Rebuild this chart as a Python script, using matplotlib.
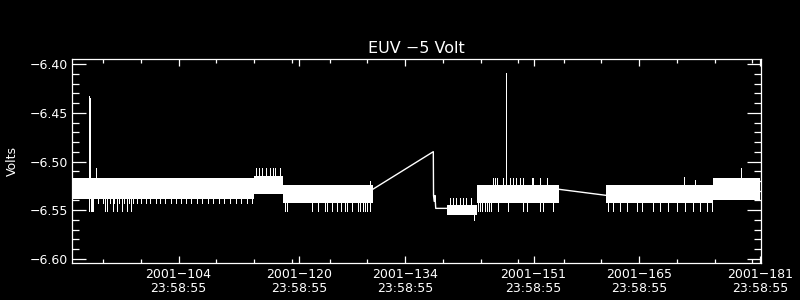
import matplotlib
matplotlib.use('Agg')
import matplotlib.pyplot as plt

# time axis: day of year 2001 (fractional); 105.0 ~ 2001-104 23:58:55
# dense telemetry blocks: start, end, top, bottom of the white band (volts)
seg_start = [90.97, 114.92, 118.76, 140.59, 144.56, 146.64, 161.61, 175.78]
seg_end = [114.92, 118.76, 130.71, 144.56, 146.64, 155.38, 175.78, 182.05]
seg_top = [-6.5170, -6.5150, -6.5242, -6.5448, -6.5242, -6.5242, -6.5242, -6.5167]
seg_bottom = [-6.5390, -6.5330, -6.5430, -6.5555, -6.5430, -6.5430, -6.5430, -6.5396]

# sparse stretches joining the blocks
ramp_t = [130.71, 138.73, 138.76, 138.85, 138.95, 139.05, 140.59]
ramp_v = [-6.5286, -6.4899, -6.5350, -6.5410, -6.5350, -6.5482, -6.5482]
gap_t = [155.38, 161.61]
gap_v = [-6.5286, -6.5348]

# upward excursions
up_t = [93.15, 93.28, 94.02,
        115.25, 115.6, 116.05, 116.58, 117.11, 117.5, 117.77, 118.43,
        130.4,
        141.0, 141.4, 141.8, 142.3, 142.7, 143.1, 143.7,
        146.68, 146.9, 147.13, 148.0, 148.88, 149.32, 149.68, 150.21,
        150.65, 151.77, 151.98, 152.87, 153.75,
        148.30, 148.36,
        171.95, 173.4, 179.49]
up_v = [-6.4323, -6.4345, -6.5064,
        -6.5064, -6.5064, -6.5064, -6.5064, -6.5064, -6.5064, -6.5064, -6.5064,
        -6.5200,
        -6.5372, -6.5372, -6.5372, -6.5372, -6.5372, -6.5372, -6.5372,
        -6.5167, -6.5167, -6.5167, -6.5167, -6.5167, -6.5167, -6.5167, -6.5167,
        -6.5167, -6.5167, -6.5167, -6.5167, -6.5167,
        -6.4326, -6.4093,
        -6.5157, -6.5190, -6.5064]

# downward excursions
down_t = [93.15, 93.36, 93.53, 93.66, 95.25, 95.55, 96.27, 96.8, 97.46, 98.12, 98.7,
          94.32, 94.99, 95.91, 96.44, 97.11, 97.77, 98.43, 98.96, 99.49, 100.02,
          100.68, 101.21, 102.01, 102.54, 103.21, 104.0, 104.66, 105.32, 105.98,
          106.64, 107.44, 108.1, 108.89, 109.56, 110.36, 111.02, 111.81, 112.6,
          113.27, 114.07, 114.72,
          119.1, 119.32, 122.63, 123.51, 124.4, 124.62, 125.36, 125.95, 126.48,
          127.05, 127.27, 127.94, 128.81, 129.03, 129.47, 129.69, 129.91, 130.35,
          144.17,
          144.65, 144.92, 145.18, 145.58, 145.84, 146.11, 146.37,
          147.34, 148.67, 150.65, 151.1, 152.87, 153.3, 154.63,
          161.91, 162.58, 163.46, 164.35, 165.68, 166.34, 167.87, 168.76, 169.86,
          170.97, 172.07, 173.17, 174.06, 174.94, 175.61]
down_v = [-6.5506] * 11 + [-6.5430] * 31 + [-6.5506] * 18 + [-6.5600] \
    + [-6.5506] * 7 + [-6.5506] * 7 + [-6.5506] * 15

tick_days = [104, 120, 134, 151, 165, 181]
tick_labels = ['2001\u2212%d\n23:58:55' % d for d in tick_days]
minor_days = [95, 100, 105, 110, 115, 120, 125, 130, 135, 140, 145, 150,
              156, 161, 166, 171, 176, 181]


def band_mid(t):
    for s, e, top, bot in zip(seg_start, seg_end, seg_top, seg_bottom):
        if s <= t <= e:
            return (top + bot) / 2
    return -6.53


fig = plt.figure(figsize=(8, 3), dpi=100, facecolor='black')
ax = fig.add_axes([0.09, 0.1233, 0.8609, 0.679])
ax.set_facecolor('black')

for s, e, top, bot in zip(seg_start, seg_end, seg_top, seg_bottom):
    ax.fill_between([s, e], [top, top], [bot, bot], color='white', lw=0,
                    antialiased=False)
ax.plot(ramp_t, ramp_v, color='white', lw=1)
ax.plot(gap_t, gap_v, color='white', lw=1)
ax.vlines(up_t, [band_mid(t) for t in up_t], up_v, color='white', lw=0.7,
          antialiased=False)
ax.vlines(down_t, [band_mid(t) for t in down_t], down_v, color='white', lw=0.7,
          antialiased=False)

ax.set_xlim(90.88, 182.09)
ax.set_ylim(-6.6044, -6.3949)

ax.set_xticks([d + 86335 / 86400 for d in tick_days])
ax.set_xticklabels(tick_labels, linespacing=1.15)
ax.set_xticks(minor_days, minor=True)
ax.set_yticks([-6.60, -6.55, -6.50, -6.45, -6.40])
ax.set_yticklabels(['\u22126.%02d' % v for v in [60, 55, 50, 45, 40]])
ax.set_yticks([-6.60 + 0.01 * i for i in range(21)], minor=True)

for sp in ax.spines.values():
    sp.set_color('white')
    sp.set_linewidth(0.9)
ax.tick_params(axis='both', which='both', direction='in', colors='white',
               top=True, right=True, labelsize=9, width=0.9)
ax.tick_params(axis='x', which='major', length=5, pad=3.3)
ax.tick_params(axis='x', which='minor', length=3.2)
ax.tick_params(axis='y', which='major', length=10, pad=3.1)
ax.tick_params(axis='y', which='minor', length=5)

fig.text(416 / 800, 1 - 52.7 / 300, 'EUV \u22125 Volt', color='white',
         fontsize=11.5, ha='center', va='baseline')
fig.text(12.5 / 800, 1 - 161 / 300, 'Volts', color='white', fontsize=9,
         rotation=90, ha='center', va='center')

fig.savefig('out.png', dpi=100, facecolor='black')
